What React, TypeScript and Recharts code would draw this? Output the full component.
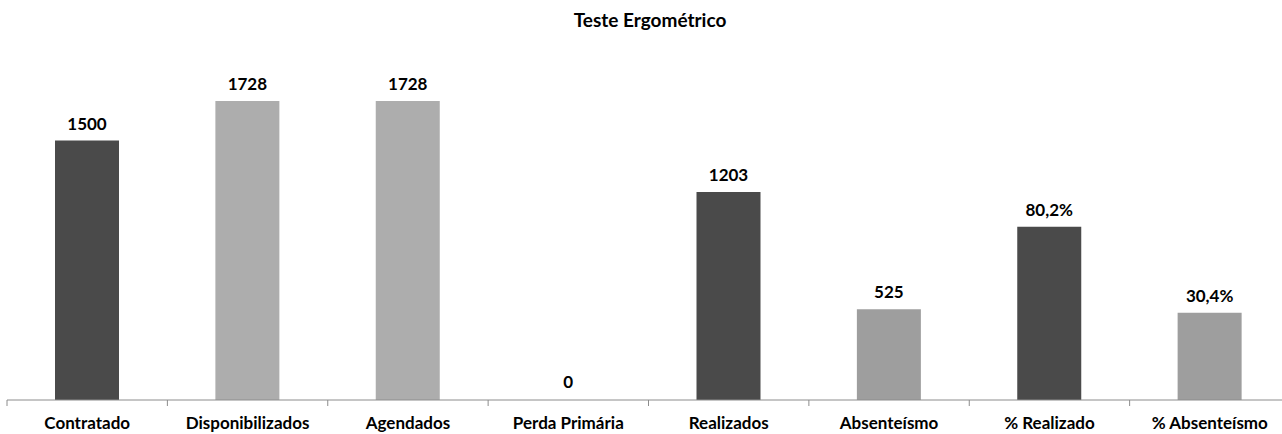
import React from 'react';
import { BarChart, Bar, XAxis, YAxis, Cell, LabelList } from 'recharts';

const categories = [
  'Contratado',
  'Disponibilizados',
  'Agendados',
  'Perda Primária',
  'Realizados',
  'Absenteísmo',
  '% Realizado',
  '% Absenteísmo',
];
const counts = [1500, 1728, 1728, 0, 1203, 525, null, null];
const percents = [null, null, null, null, null, null, 80.2, 30.4];

// the percentage bars sit on their own axis whose floor is below zero
const PCT_MIN = -20;
const PCT_MAX = 180;

const barColors = ['#4a4a4a', '#adadad', '#adadad', 'transparent', '#4a4a4a', '#9e9e9e', '#4a4a4a', '#9e9e9e'];

const data = categories.map((name, i) => ({
  name,
  count: counts[i],
  pct: percents[i],
}));

const FONT = 'Lato, sans-serif';
const AXIS_COLOR = '#8c8c8c';
const labelStyle = { fill: '#000', fontSize: 17, fontWeight: 700, fontFamily: FONT };
const TICK_SIZE = 6;
const TICK_MARGIN = 11;

const pctLabel = (v: any) => (v == null ? '' : `${Number(v).toFixed(1).replace('.', ',')}%`);

// category label plus an Excel-style tick mark on the left edge of the band
const CategoryTick = (props: any) => {
  const { x, y, payload } = props;
  const axisY = y - TICK_SIZE - TICK_MARGIN;
  const edge = x - (payload.offset || 0);
  return (
    <g>
      <line x1={edge} x2={edge} y1={axisY} y2={axisY + TICK_SIZE} stroke={AXIS_COLOR} />
      <text x={x} y={y} dy="0.71em" textAnchor="middle" {...labelStyle}>
        {payload.value}
      </text>
    </g>
  );
};

export default function App() {
  return (
    <div
      style={{
        position: 'absolute',
        left: 0,
        top: 0,
        width: 1282,
        height: 434,
        overflow: 'hidden',
        background: '#fff',
      }}
    >
      <div
        style={{
          position: 'absolute',
          left: 0,
          top: 9,
          width: 1300,
          textAlign: 'center',
          fontFamily: FONT,
          fontWeight: 700,
          fontSize: 19,
          lineHeight: '22px',
          color: '#000',
        }}
      >
        Teste Ergométrico
      </div>
      <BarChart
        width={1290}
        height={434}
        data={data}
        margin={{ top: 54, right: 0, bottom: 0, left: 7 }}
        barSize={64}
      >
        <XAxis
          xAxisId="c"
          dataKey="name"
          height={34}
          interval={0}
          axisLine={{ stroke: AXIS_COLOR }}
          tickLine={false}
          tickSize={TICK_SIZE}
          tickMargin={TICK_MARGIN}
          tick={<CategoryTick />}
        />
        <XAxis xAxisId="p" dataKey="name" hide />
        <YAxis yAxisId="c" domain={[0, 2000]} hide />
        <YAxis yAxisId="p" domain={[PCT_MIN, PCT_MAX]} allowDataOverflow hide />
        <Bar dataKey="count" xAxisId="c" yAxisId="c" minPointSize={1} isAnimationActive={false}>
          {data.map((d, i) => (
            <Cell key={d.name} fill={barColors[i]} />
          ))}
          <LabelList dataKey="count" position="top" offset={11} style={labelStyle} />
        </Bar>
        <Bar
          dataKey={(d: any) => (d.pct == null ? null : [PCT_MIN, d.pct])}
          xAxisId="p"
          yAxisId="p"
          isAnimationActive={false}
        >
          {data.map((d, i) => (
            <Cell key={d.name} fill={barColors[i]} />
          ))}
          <LabelList dataKey="pct" position="top" offset={11} style={labelStyle} formatter={pctLabel} />
        </Bar>
      </BarChart>
    </div>
  );
}
